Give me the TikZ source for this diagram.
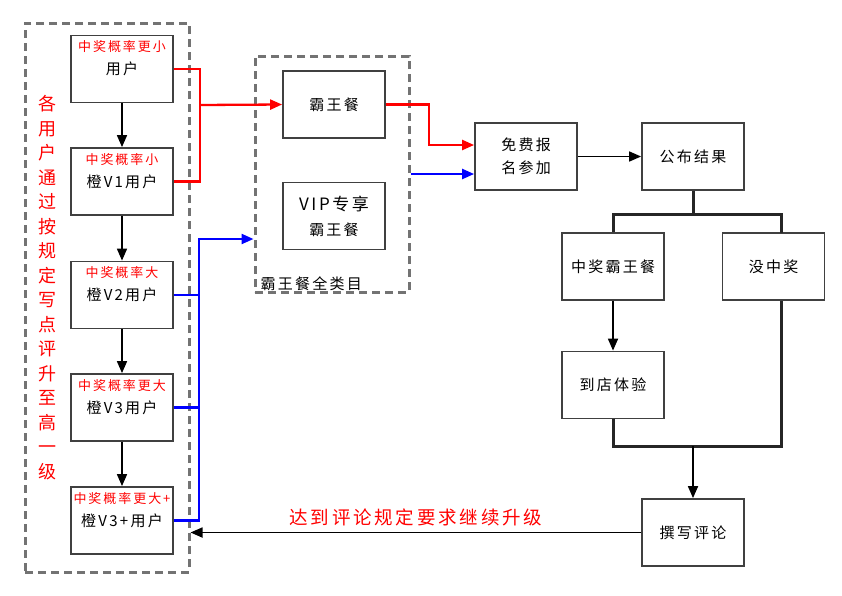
\documentclass[tikz,border=0pt]{standalone}
\usepackage{fontspec}
\setmainfont[LetterSpace=15]{Noto Sans CJK SC}
\usetikzlibrary{positioning, arrows.meta, calc}
\usepackage{xcolor}

\begin{document}
\begin{tikzpicture}[x=1pt, y=-1pt, font=\fontsize{15}{20}\selectfont,
  box/.style={draw=black!75, line width=1.8pt, minimum width=102pt, minimum height=67pt, inner sep=0pt, align=center},
  tag/.style={red, font=\fontsize{13}{14}\selectfont, inner sep=0pt},
  grp/.style={draw=black!55, line width=3pt, dash pattern=on 8pt off 5pt},
  tip/.style={-{Triangle[length=12pt, width=10pt]}},
  arr/.style={black, line width=1.7pt, tip},
  tree/.style={black!85, line width=3pt},
  rline/.style={red, line width=2.3pt},
  bline/.style={blue, line width=2.3pt}]
  \useasboundingbox (0,0) rectangle (842,595);

  % coluna dos niveis de utilizador
  \node[grp, minimum width=164pt, minimum height=549pt] (lvl) at (107,297.5) {};
  \node[red, font=\fontsize{18}{24.5}\selectfont, align=center, inner sep=0pt] (vtxt) at (47,287.5)
    {各\\用\\户\\通\\过\\按\\规\\定\\写\\点\\评\\升\\至\\高\\一\\级};
  \node[box] (u0) at (122,69) {用户};
  \node[box] (u1) at (122,181.5) {橙V1用户};
  \node[box] (u2) at (122,295) {橙V2用户};
  \node[box] (u3) at (122,407.5) {橙V3用户};
  \node[box] (u4) at (122,520.5) {橙V3+用户};
  \node[tag, below=6pt of u0.north] (t0) {中奖概率更小};
  \node[tag, below=6pt of u1.north] (t1) {中奖概率小};
  \node[tag, below=6pt of u2.north] (t2) {中奖概率大};
  \node[tag, below=6pt of u3.north] (t3) {中奖概率更大};
  \node[tag, below=6pt of u4.north] (t4) {中奖概率更大+};
  \foreach \a/\b in {u0/u1, u1/u2, u2/u3, u3/u4}
    \draw[arr] (\a.south) -- (\b.north);

  % categorias
  \node[grp, minimum width=154pt, minimum height=236pt] (cat) at (332,174) {};
  \node[inner sep=0pt, above right=3pt and 7pt of cat.south west] (catname) {霸王餐全类目};
  \node[box] (bwc) at (334,104.5) {霸王餐};
  \node[box, font=\fontsize{15}{25}\selectfont] (vip) at (334,216) {{\fontsize{17}{25}\selectfont VIP专享}\\霸王餐};

  \node[box, font=\fontsize{15}{23}\selectfont] (free) at (526,156.5) {免费报\\名参加};
  \node[box] (pub) at (693,156.5) {公布结果};
  \node[box] (win) at (613,266.5) {中奖霸王餐};
  \node[box] (lose) at (773.5,266.5) {没中奖};
  \node[box] (visit) at (613,385) {到店体验};
  \node[box] (review) at (693,532.5) {撰写评论};

  % ligacoes vermelhas e azuis
  \coordinate (rbus) at (200,105);
  \draw[rline] (u0.east) -| (rbus) |- (u1.east);
  \draw[rline, tip] (rbus) -- (bwc.west);
  \coordinate (bbus) at (199,239);
  \draw[bline, tip] (u4.east) -| (bbus) -- (bbus -| cat.west);
  \draw[bline] (u2.east) -- (u2.east -| bbus);
  \draw[bline] (u3.east) -- (u3.east -| bbus);
  \coordinate (rturn) at (429,145);
  \draw[rline, tip] (bwc.east) -| (rturn) -- (rturn -| free.west);
  \draw[bline, tip] (cat.east) -- (cat.east -| free.west);

  \draw[arr] (free.east) -- (pub.west);
  \coordinate (split) at (693,214);
  \coordinate (rcol) at (781,233);
  \draw[tree] (pub.south) -- (split);
  \draw[tree] (win.north) |- (split) -| (rcol);
  \draw[arr] (win.south) -- (visit.north);
  \coordinate (merge) at (693,446);
  \draw[tree] (visit.south) |- (merge -| rcol) -- (rcol |- lose.south);
  \draw[arr] (merge) -- (review.north);
  \draw[arr] (review.west) -- (review.west -| lvl.east)
    node[midway, above=6pt, red, inner sep=0pt, font=\fontsize{18.5}{20}\selectfont] (note) {达到评论规定要求继续升级};
\end{tikzpicture}
\end{document}
